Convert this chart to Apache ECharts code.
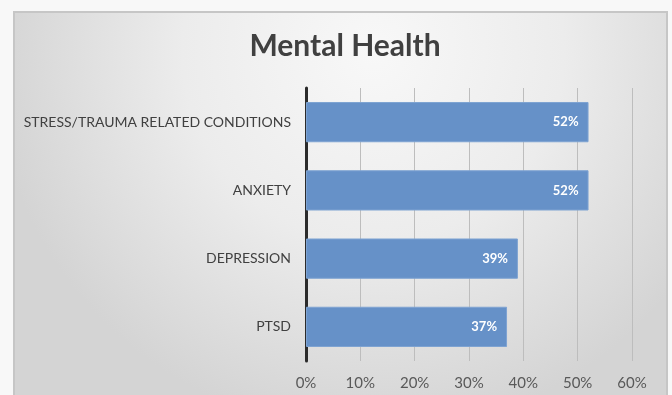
<!DOCTYPE html>
<html>
<head>
<meta charset="utf-8">
<script src="https://cdn.jsdelivr.net/npm/echarts@6/dist/echarts.min.js"></script>
<style>
  html, body { margin: 0; padding: 0; background: #f8f8f8; }
  #chart { width: 672px; height: 395px; }
</style>
</head>
<body>
<div id="chart"></div>
<script>
// Share of respondents by condition (percent)
const categories = ['STRESS/TRAUMA RELATED CONDITIONS', 'ANXIETY', 'DEPRESSION', 'PTSD'];
const values = [52, 52, 39, 37];
const axisMax = 60;
const axisStep = 10;

const FONT = 'Lato, "Open Sans", sans-serif';

const chart = echarts.init(document.getElementById('chart'), null, { renderer: 'canvas' });

chart.setOption({
  backgroundColor: '#f8f8f8',
  animation: false,
  graphic: [{
    type: 'rect',
    z: -10,
    silent: true,
    shape: { x: 14, y: 12, width: 653, height: 400 },
    style: {
      fill: {
        type: 'radial', x: 0.55, y: 0.1, r: 0.95,
        colorStops: [
          { offset: 0, color: '#f8f8f8' },
          { offset: 0.5, color: '#ececec' },
          { offset: 1, color: '#d4d4d4' }
        ]
      },
      stroke: '#c6c6c6',
      lineWidth: 2
    }
  }],
  title: {
    text: 'Mental Health',
    left: 340,
    textAlign: 'center',
    top: 26,
    textStyle: { fontFamily: FONT, fontSize: 30, fontWeight: 'bold', color: '#404040' }
  },
  grid: { left: 306, right: 40, top: 88, bottom: 34, containLabel: false },
  xAxis: {
    type: 'value',
    min: 0,
    max: axisMax,
    interval: axisStep,
    axisLine: { show: false },
    axisTick: { show: false },
    axisLabel: {
      formatter: v => v + '%',
      margin: 15,
      fontFamily: FONT,
      fontSize: 15,
      color: '#595959'
    },
    splitLine: { show: true, lineStyle: { color: '#bdbdbd', width: 1 } }
  },
  yAxis: {
    type: 'category',
    data: categories,
    inverse: true,
    axisLine: { show: true, lineStyle: { color: '#2b2b2b', width: 3 } },
    axisTick: { show: false },
    axisLabel: {
      margin: 15,
      fontFamily: FONT,
      fontSize: 14,
      color: '#404040'
    }
  },
  series: [{
    type: 'bar',
    data: values,
    barWidth: '59%',
    itemStyle: { color: '#6691c8', borderColor: '#7ea3d2', borderWidth: 1 },
    label: {
      show: true,
      position: 'insideRight',
      distance: 10,
      formatter: p => p.value + '%',
      fontFamily: FONT,
      fontSize: 13,
      fontWeight: 'bold',
      color: '#ffffff'
    }
  }]
});
</script>
</body>
</html>
